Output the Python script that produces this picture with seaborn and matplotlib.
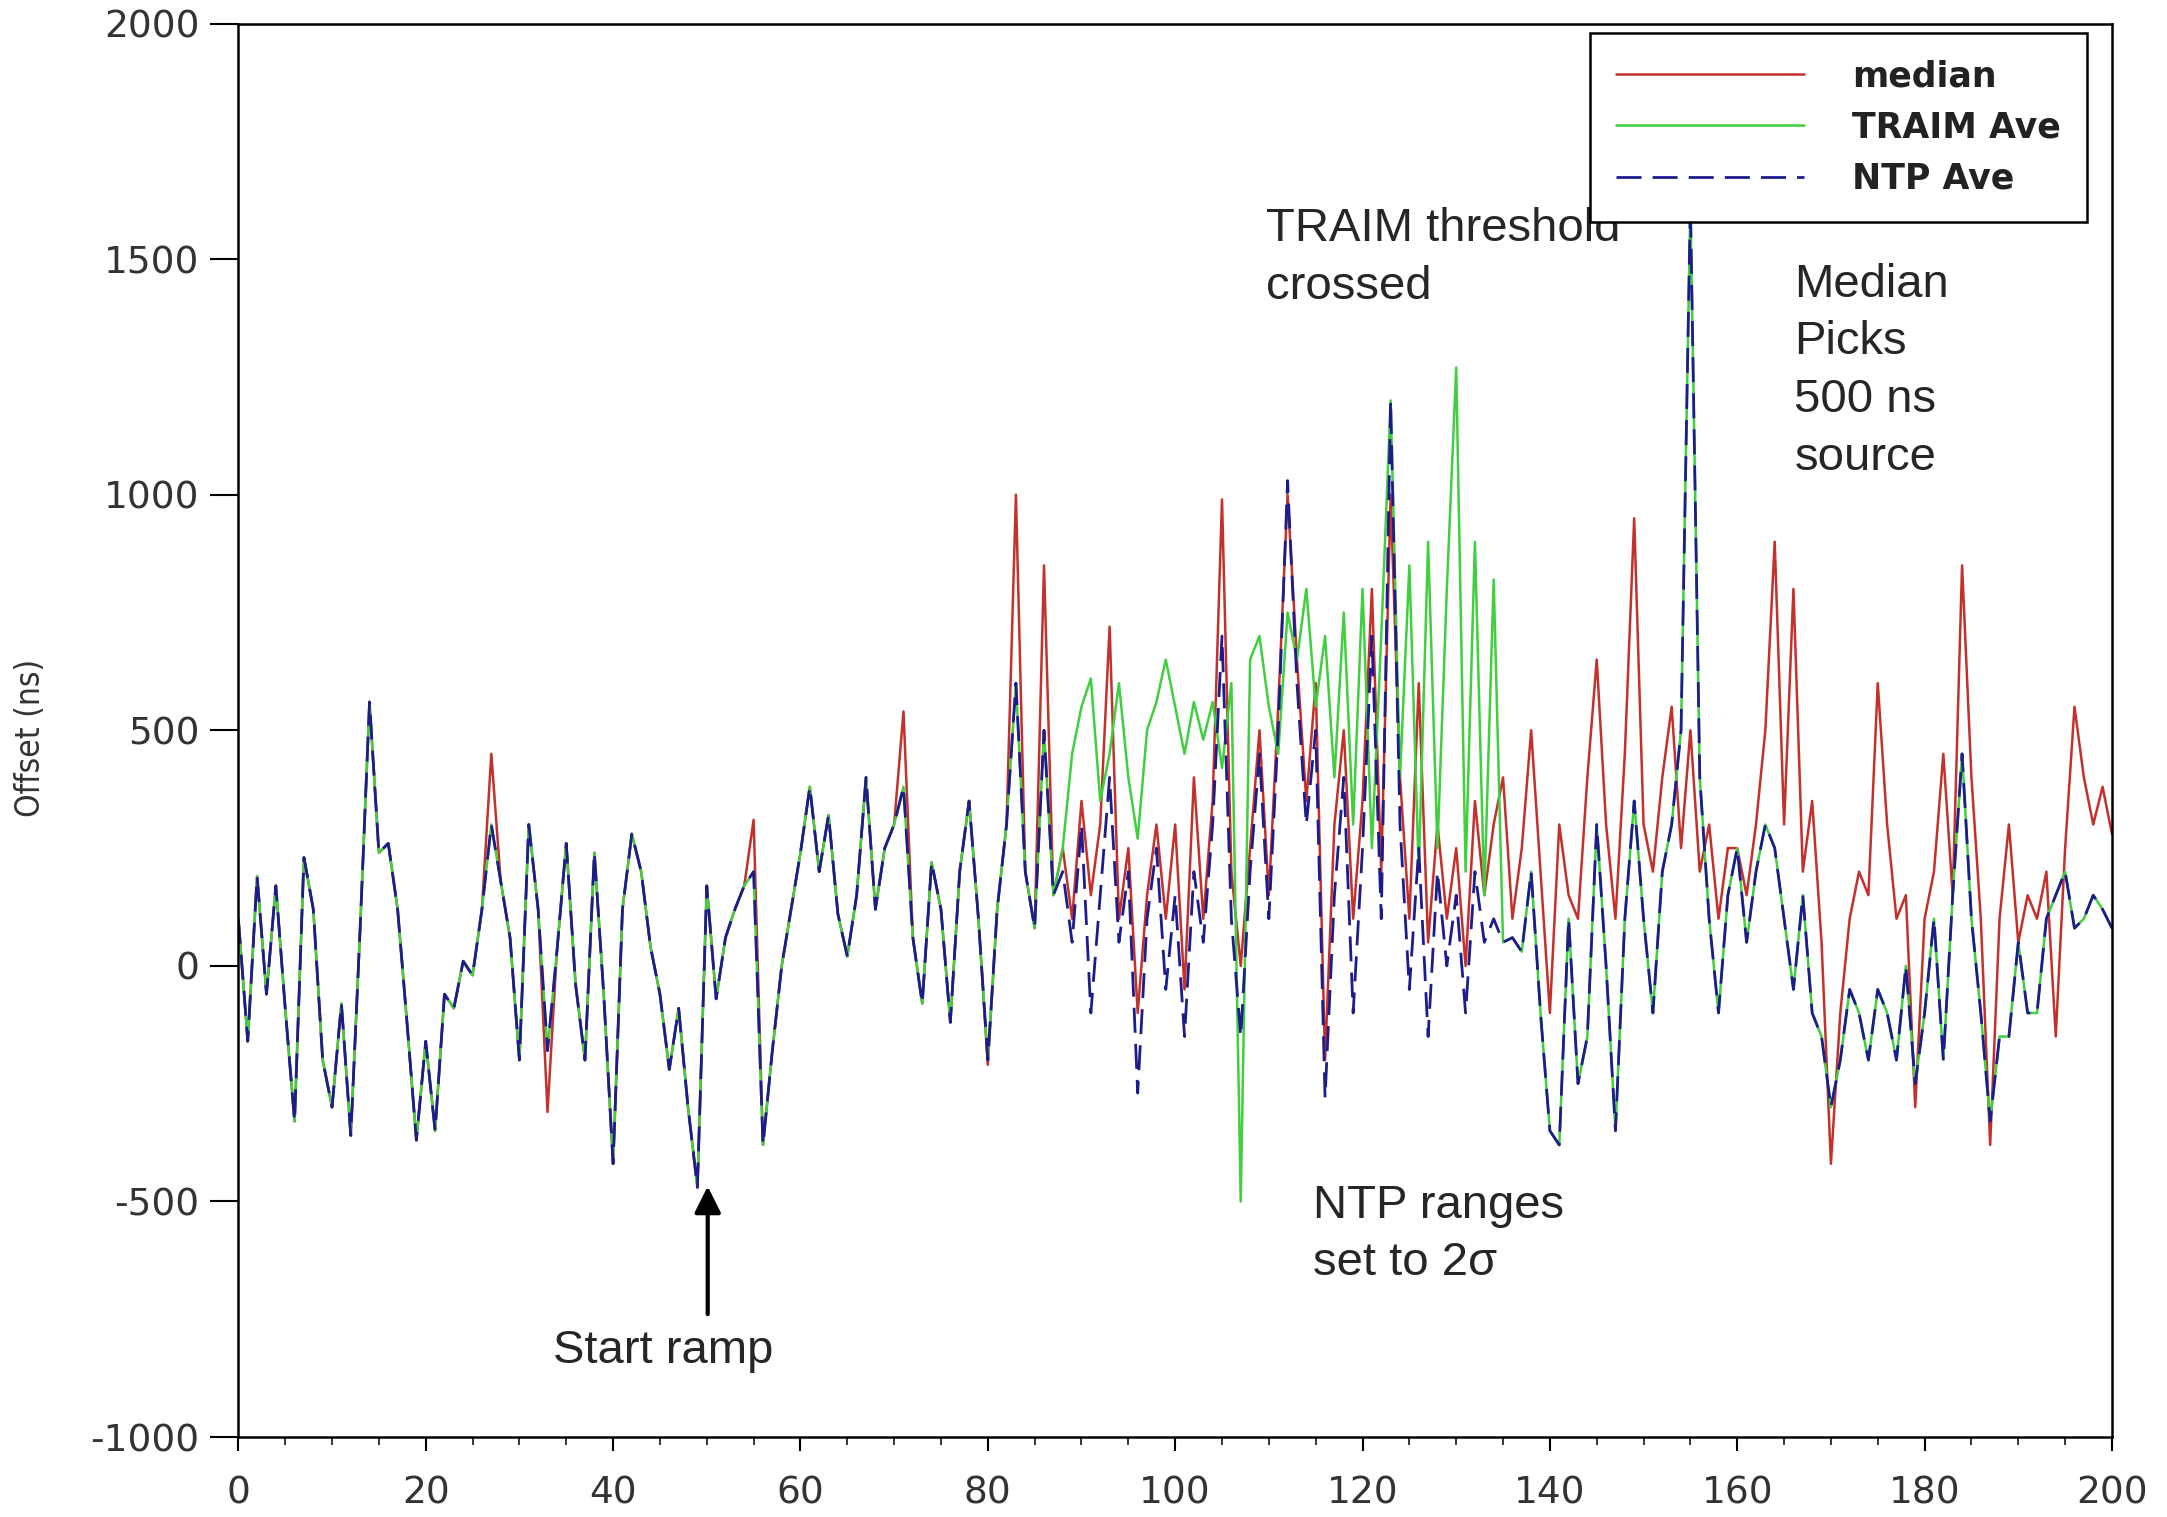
import numpy as np
import pandas as pd
import seaborn as sns
import matplotlib.pyplot as plt

# time axis, one sample per unit
x = np.arange(0, 201)

# x = 0..87 : all three estimators agree
shared = [100, -160, 190, -60, 170, -90, -330, 230, 120, -200,
          -300, -80, -360, 80, 560, 240, 260, 120, -120, -370,
          -160, -350, -60, -90, 10, -20, 120, 300, 180, 60,
          -200, 300, 120, -180, 30, 260, -40, -200, 240, -60,
          -420, 120, 280, 200, 40, -60, -220, -90, -300, -470,
          170, -70, 60, 120, 170, 200, -380, -180, 0, 120,
          240, 380, 200, 320, 110, 20, 150, 400, 120, 250,
          300, 380, 60, -80, 220, 120, -120, 200, 350, 100,
          -200, 120, 300, 600, 200, 80, 500, 150]

# where the median sticks out in the shared part
median_peaks = {27: 450, 33: -310, 55: 310, 71: 540, 80: -210, 83: 1000, 86: 850}

# x = 88..200
median_tail = [250, 100, 350, 150, 300, 720, 100, 250, -100, 150,
               300, 100, 300, -50, 400, 100, 350, 990, 200, 0,
               250, 500, 150, 550, 1000, 650, 350, 600, -200, 300,
               500, 100, 350, 800, 200, 1000, 400, 100, 600, 50,
               300, 100, 250, 0, 350, 150, 300,
               400, 100, 250, 500, 200, -100, 300, 150, 100, 400,
               650, 300, 100, 450, 950, 300, 200, 400, 550, 250,
               500, 200, 300, 100, 250, 250, 150, 300, 500, 900,
               300, 800, 200, 350, 50, -420, -100, 100, 200, 150,
               600, 300, 100, 150, -300, 100, 200, 450, 150, 850,
               400, 100, -380, 100, 300, 50, 150, 100, 200, -150,
               250, 550, 400, 300, 380, 280]

ntp_tail = [200, 50, 300, -100, 150, 400, 50, 200, -270, 100,
            250, -50, 150, -150, 200, 50, 300, 700, 100, -150,
            200, 450, 100, 500, 1030, 600, 300, 500, -280, 150,
            400, -100, 250, 700, 100, 1200, 300, -50, 250, -150,
            200, 0, 150, -100, 200, 50, 100,
            50, 60, 30, 200, -100, -350, -380, 100, -250, -150,
            300, 0, -350, 100, 350, 100, -100, 200, 300, 500,
            1620, 400, 100, -100, 150, 250, 50, 200, 300, 250,
            100, -50, 150, -100, -150, -300, -200, -50, -100, -200,
            -50, -100, -200, 0, -250, -100, 100, -200, 150, 450,
            100, -100, -330, -150, -150, 50, -100, -100, 100, 150,
            200, 80, 100, 150, 120, 80]

# x = 88..134 : TRAIM goes its own way, after that it follows NTP
traim_mid = [250, 450, 550, 610, 350, 450, 600, 400, 270, 500,
             560, 650, 550, 450, 560, 480, 560, 420, 600, -500,
             650, 700, 550, 450, 750, 650, 800, 550, 700, 400,
             750, 300, 800, 250, 700, 1200, 400, 850, 200, 900,
             250, 800, 1270, 200, 900, 150, 820]

median = shared + median_tail
for k, v in median_peaks.items():
    median[k] = v
ntp = shared + ntp_tail
traim = shared + traim_mid + ntp_tail[len(traim_mid):]

df = pd.DataFrame({"t": x, "median": median, "traim": traim, "ntp": ntp})

sns.set_style("ticks")
plt.rcParams['font.family'] = ['DejaVu Sans']
plt.rcParams['axes.unicode_minus'] = False

fig, ax = plt.subplots(figsize=(21.67, 15.17), dpi=100)
fig.subplots_adjust(left=0.11, right=0.9746, bottom=0.0527, top=0.9845)

sns.lineplot(data=df, x="t", y="median", color="#c4302b", lw=1.8, label="median", ax=ax)
sns.lineplot(data=df, x="t", y="traim", color="#3fcf3f", lw=1.8, label="TRAIM Ave", ax=ax)
sns.lineplot(data=df, x="t", y="ntp", color="#1c1c8c", lw=2.0, linestyle=(0, (9, 4)),
             label="NTP Ave", ax=ax)

ax.set_xlim(0, 200)
ax.set_ylim(-1000, 2000)
ax.set_xticks(range(0, 201, 20))
ax.set_xticks(range(0, 201, 5), minor=True)
ax.set_yticks(range(-1000, 2001, 500))
ax.set_xlabel("")
ax.set_ylabel("")
ax.tick_params(axis="both", labelsize=27, labelcolor="#333333", width=1.5, color="black")
ax.tick_params(axis="y", length=20, pad=8)
ax.tick_params(axis="x", which="major", length=10, pad=18)
ax.tick_params(axis="x", which="minor", length=6, width=1.3)
for s in ax.spines.values():
    s.set_linewidth(1.8)
    s.set_color("black")

fig.text(30 / 2167, 1 - 738 / 1517, "Offset (ns)", rotation=90, fontsize=24,
         fontstretch="condensed", color="#333333", ha="center", va="center")

leg = ax.legend(loc="upper right", bbox_to_anchor=(0.9867, 0.9933), fontsize=25,
                handlelength=5.4, handletextpad=1.4, borderpad=0.75, labelspacing=0.5,
                fancybox=False, edgecolor="black", framealpha=1, borderaxespad=0)
leg.get_frame().set_linewidth(1.8)
for t in leg.get_texts():
    t.set_color("#222222")
    t.set_fontweight("bold")

note = dict(fontsize=34, family=["Liberation Sans", "DejaVu Sans"], ha="left", va="top",
            linespacing=1.4)
ax.text(109.7, 1610, "TRAIM threshold\ncrossed", **note)
ax.text(166.1, 1492, "Median\nPicks\n500 ns\nsource", **note)
ax.text(114.7, -462, "NTP ranges\nset to 2\u03c3", **note)
ax.text(33.6, -770, "Start ramp", **note)
ax.annotate("", xy=(50.1, -462), xytext=(50.1, -745),
            arrowprops=dict(arrowstyle="-|>", lw=3, mutation_scale=40, color="black"))

fig.savefig("out.png", dpi=100)
